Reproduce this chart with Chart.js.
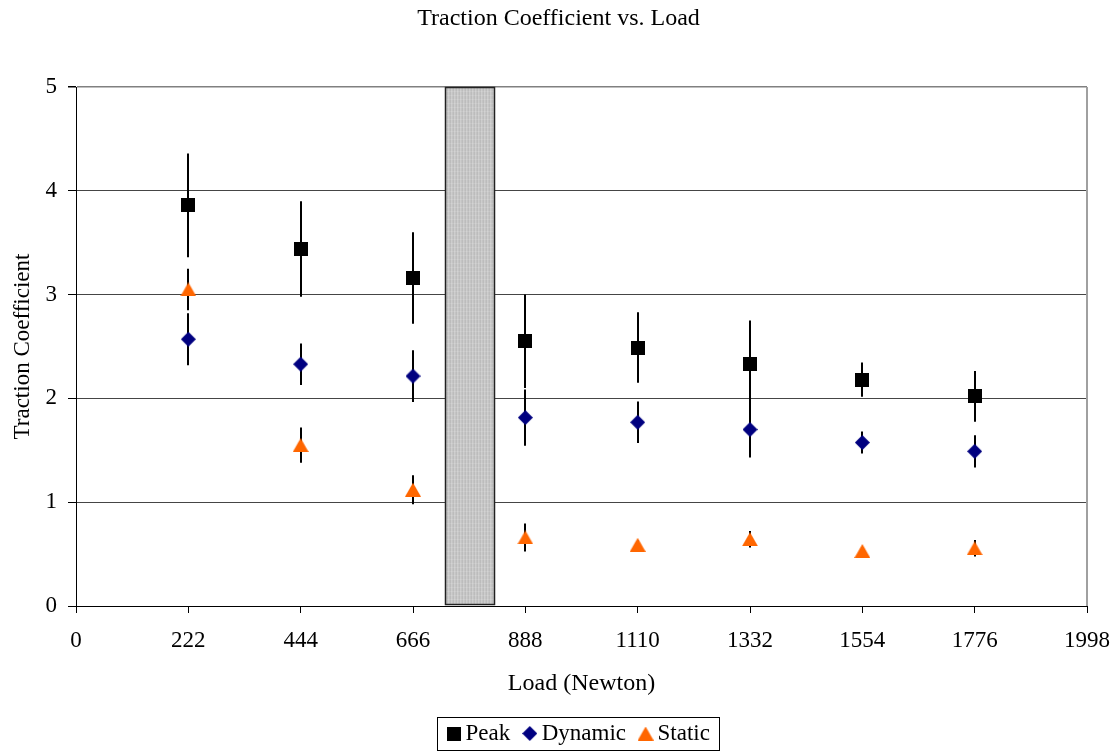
<!DOCTYPE html>
<html>
<head>
<meta charset="utf-8">
<script src="https://cdn.jsdelivr.net/npm/chart.js@4.4.1/dist/chart.umd.min.js"></script>
<style>
html,body{margin:0;padding:0;background:#fff;}
#wrap{width:1117px;height:752px;}
</style>
</head>
<body>
<div id="wrap"><canvas id="c" width="1117" height="752"></canvas></div>
<script>
// ---- data ----
const loads      = [222, 444, 666, 888, 1110, 1332, 1554, 1776];
const peak       = [3.86, 3.44, 3.16, 2.55, 2.49, 2.33, 2.18, 2.02];
const peakErr    = [0.50, 0.46, 0.44, 0.45, 0.34, 0.42, 0.165, 0.245];
const dynamic    = [2.57, 2.33, 2.215, 1.815, 1.77, 1.70, 1.575, 1.49];
const dynamicErr = [0.25, 0.20, 0.25, 0.27, 0.20, 0.27, 0.105, 0.155];
const staticV    = [3.05, 1.55, 1.12, 0.66, 0.59, 0.643, 0.53, 0.556];
const staticErr  = [0.20, 0.17, 0.14, 0.135, 0.04, 0.08, 0.03, 0.08];
const seriesNames = ['Peak', 'Dynamic', 'Static'];
const xTicks = [0, 222, 444, 666, 888, 1110, 1332, 1554, 1776, 1998];
const yTicks = [0, 1, 2, 3, 4, 5];
const gapBandX = [729, 826];   // shaded load range
const gapBandY = [0.02, 5];

const FONT = "'Liberation Serif','Times New Roman',serif";

function makeMarker(kind){
  const c = document.createElement('canvas');
  const g = c.getContext('2d');
  if (kind === 'square'){
    c.width = 14; c.height = 14;
    g.fillStyle = '#000000'; g.fillRect(0,0,14,14);
  } else if (kind === 'diamond'){
    c.width = 15; c.height = 15;
    g.fillStyle = '#000080';
    g.beginPath(); g.moveTo(7.5,0); g.lineTo(15,7.5); g.lineTo(7.5,15); g.lineTo(0,7.5); g.closePath(); g.fill();
  } else {
    c.width = 16; c.height = 14;
    g.fillStyle = '#FF6600';
    g.beginPath(); g.moveTo(8,0); g.lineTo(16,14); g.lineTo(0,14); g.closePath(); g.fill();
  }
  return c;
}
const markers = [makeMarker('square'), makeMarker('diamond'), makeMarker('triangle')];

function toPoints(vals){ return loads.map((x,i)=>({x:x, y:vals[i]})); }

function makeHatch(ctx){
  const p = document.createElement('canvas');
  p.width = 3; p.height = 4;
  const g = p.getContext('2d');
  const cols = ['#bcbcbc','#cdcdcd','#c4c4c4'];
  for (let i=0;i<3;i++){ g.fillStyle = cols[i]; g.fillRect(i,0,1,4); }
  g.fillStyle = 'rgba(255,255,255,0.12)'; g.fillRect(0,3,3,1);
  return ctx.createPattern(p,'repeat');
}

const overlay = {
  id: 'overlay',
  afterLayout(chart){
    const lg = chart.legend, ca = chart.chartArea;
    if (lg){ lg.left = ca.left; lg.right = ca.right; }
  },
  beforeDatasetsDraw(chart){
    const ctx = chart.ctx, xs = chart.scales.x, ys = chart.scales.y, ca = chart.chartArea;
    ctx.save();
    // shaded band
    const bx1 = Math.round(xs.getPixelForValue(gapBandX[0])) + 0.5;
    const bx2 = Math.round(xs.getPixelForValue(gapBandX[1])) + 0.5;
    const by1 = Math.round(ys.getPixelForValue(gapBandY[1])) + 0.5;
    const by2 = Math.round(ys.getPixelForValue(gapBandY[0])) + 0.5;
    ctx.fillStyle = makeHatch(ctx);
    ctx.fillRect(bx1, by1, bx2-bx1, by2-by1);
    ctx.strokeStyle = '#222'; ctx.lineWidth = 1.5;
    ctx.strokeRect(bx1, by1, bx2-bx1, by2-by1);
    // right border of plot
    ctx.strokeStyle = '#a0a0a0'; ctx.lineWidth = 2;
    ctx.beginPath(); ctx.moveTo(ca.right, ca.top); ctx.lineTo(ca.right, ca.bottom); ctx.stroke();
    // error bars
    const sets = [[peak, peakErr], [dynamic, dynamicErr], [staticV, staticErr]];
    ctx.strokeStyle = '#000'; ctx.lineWidth = 2; ctx.lineCap = 'butt';
    sets.forEach(([v, e]) => {
      v.forEach((val, i) => {
        const x = Math.round(xs.getPixelForValue(loads[i]));
        ctx.beginPath();
        ctx.moveTo(x, ys.getPixelForValue(val + e[i]));
        ctx.lineTo(x, ys.getPixelForValue(val - e[i]));
        ctx.stroke();
      });
    });
    ctx.restore();
  },
  afterDraw(chart){
    const hb = chart.legend && chart.legend.legendHitBoxes;
    if (!hb || !hb.length) return;
    const ctx = chart.ctx;
    const last = hb[hb.length-1];
    const l = Math.round(hb[0].left - 16) + 0.5;
    const r = Math.round(last.left + last.width + 9) + 0.5;
    const cy = hb[0].top + hb[0].height/2;
    const t = Math.round(cy - 17) + 0.5;
    ctx.save();
    ctx.strokeStyle = '#000'; ctx.lineWidth = 1;
    ctx.strokeRect(l, t, r-l, 33);
    ctx.restore();
  }
};

const ctx = document.getElementById('c').getContext('2d');
new Chart(ctx, {
  type: 'scatter',
  data: {
    datasets: [
      { label: seriesNames[0], data: toPoints(peak),    pointStyle: markers[0], pointRadius: 7, showLine: false, backgroundColor: '#000', borderColor: '#000' },
      { label: seriesNames[1], data: toPoints(dynamic), pointStyle: markers[1], pointRadius: 7, showLine: false, backgroundColor: '#000080', borderColor: '#000080' },
      { label: seriesNames[2], data: toPoints(staticV), pointStyle: markers[2], pointRadius: 7, showLine: false, backgroundColor: '#FF6600', borderColor: '#FF6600' }
    ]
  },
  options: {
    responsive: false,
    animation: false,
    events: [],
    layout: { padding: { left: 0, right: 0, top: 0, bottom: -3 } },
    plugins: {
      title: {
        display: true,
        text: 'Traction Coefficient vs. Load',
        color: '#000',
        font: { family: FONT, size: 24, weight: 'normal' },
        padding: { top: 4, bottom: 54.2 }
      },
      legend: {
        display: true,
        position: 'bottom',
        labels: {
          usePointStyle: true,
          boxWidth: 1,
          padding: 19,
          color: '#000',
          font: { family: FONT, size: 23 }
        }
      },
      tooltip: { enabled: false }
    },
    scales: {
      x: {
        type: 'linear',
        min: 0, max: 1998,
        afterBuildTicks: (s) => { s.ticks = xTicks.map(v => ({ value: v })); },
        afterFit: (s) => { s.height = 97; s.paddingRight = 30; s.paddingLeft = 0; },
        ticks: {
          color: '#000', padding: 14, maxRotation: 0, autoSkip: false,
          font: { family: FONT, size: 23 },
          callback: (v) => String(v)
        },
        grid: { drawOnChartArea: false, drawTicks: true, tickLength: 7, tickColor: '#000', color: '#000' },
        border: { display: true, color: '#000', width: 1 },
        title: {
          display: true, text: 'Load (Newton)', color: '#000',
          font: { family: FONT, size: 24 },
          padding: { top: 0, bottom: 5 }
        }
      },
      y: {
        type: 'linear',
        min: 0, max: 5,
        afterBuildTicks: (s) => { s.ticks = yTicks.map(v => ({ value: v })); },
        afterFit: (s) => { s.width = 76; },
        ticks: {
          color: '#000', padding: 11,
          font: { family: FONT, size: 23 },
          callback: (v) => String(v)
        },
        grid: {
          drawOnChartArea: true, drawTicks: true, tickLength: 8, tickColor: '#000',
          color: (c) => (c.tick && c.tick.value === 5) ? '#808080' : '#454545',
          lineWidth: (c) => (c.tick && c.tick.value === 5) ? 1.5 : 1
        },
        border: { display: true, color: '#000', width: 1 },
        title: {
          display: true, text: 'Traction Coefficient', color: '#000',
          font: { family: FONT, size: 23 },
          padding: { top: 9, bottom: 0 }
        }
      }
    }
  },
  plugins: [overlay]
});
</script>
</body>
</html>
